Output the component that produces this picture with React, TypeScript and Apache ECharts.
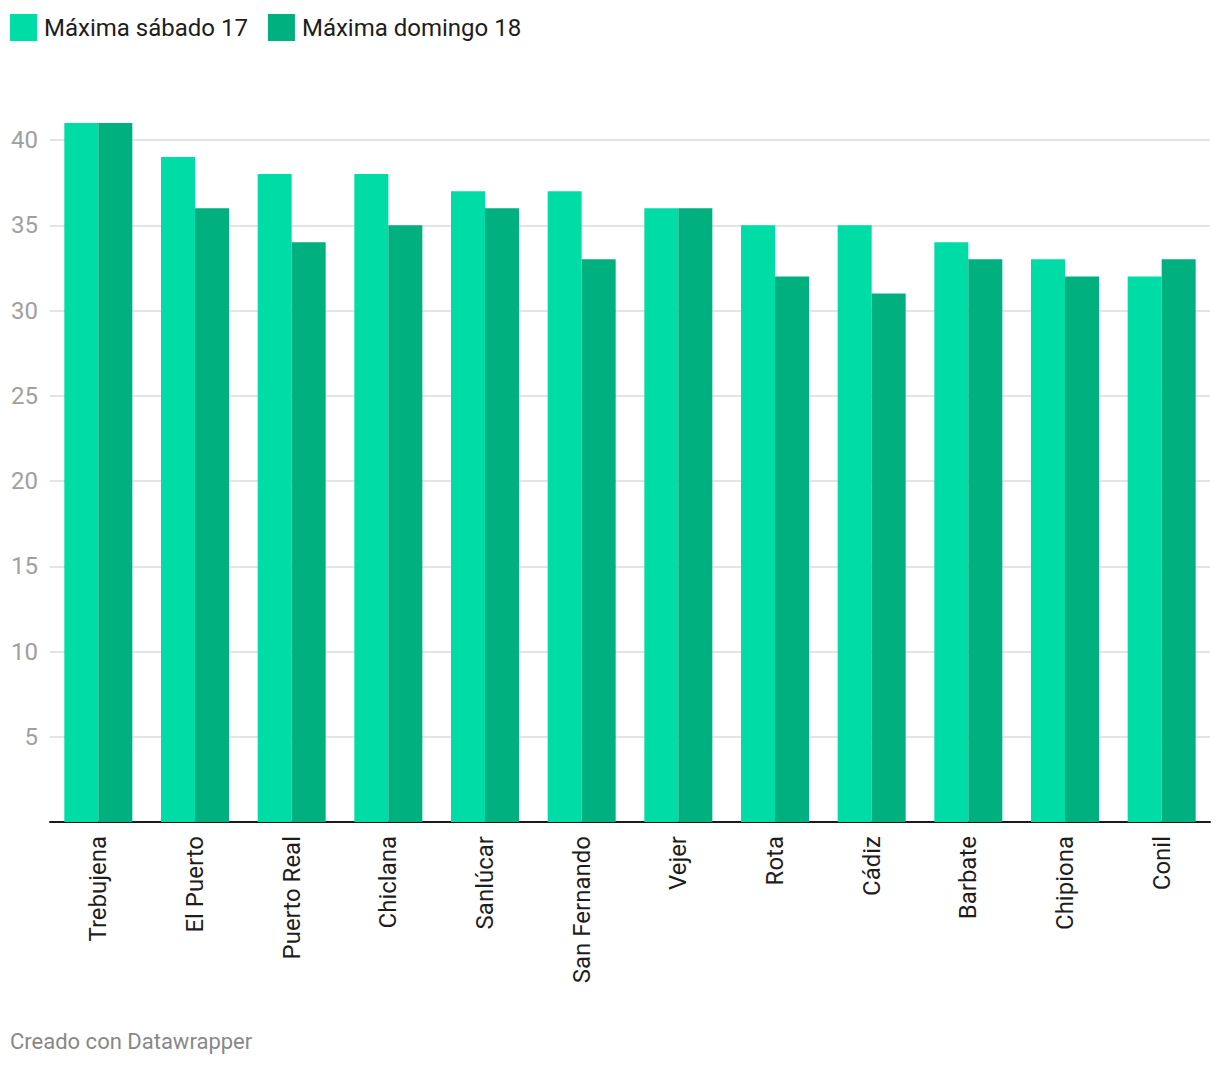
import React, { useEffect, useRef } from "react";
import * as echarts from "echarts";

const categories = ["Trebujena", "El Puerto", "Puerto Real", "Chiclana", "Sanlúcar", "San Fernando", "Vejer", "Rota", "Cádiz", "Barbate", "Chipiona", "Conil"];
const sabado = [41, 39, 38, 38, 37, 37, 36, 35, 35, 34, 33, 32];
const domingo = [41, 36, 34, 35, 36, 33, 36, 32, 31, 33, 32, 33];
const seriesNames = ["Máxima sábado 17", "Máxima domingo 18"];
const colors = ["#00dca5", "#00b07e"];
const footer = "Creado con Datawrapper";

export default function App() {
  const ref = useRef<HTMLDivElement>(null);
  useEffect(() => {
    if (!ref.current) return;
    const chart = echarts.init(ref.current, null, { renderer: "svg" });
    const font = "Roboto, 'Noto Sans', sans-serif";
    chart.setOption({
      animation: false,
      backgroundColor: "#ffffff",
      textStyle: { fontFamily: font },
      color: colors,
      legend: {
        left: 10,
        top: 14,
        padding: 0,
        itemWidth: 27,
        itemHeight: 27,
        itemGap: 20,
        icon: "rect",
        textStyle: { fontSize: 24, color: "#1d1d1d", fontFamily: font, padding: [0, 0, 0, 2] },
        data: seriesNames,
      },
      grid: { left: 50, right: 10, top: 140, bottom: 244, containLabel: false },
      xAxis: {
        type: "category",
        data: categories,
        axisLine: { show: true, lineStyle: { color: "#1a1a1a", width: 2 } },
        axisTick: { show: false },
        axisLabel: {
          rotate: 90,
          margin: 14,
          fontSize: 24,
          color: "#1d1d1d",
          fontFamily: font,
          interval: 0,
        },
      },
      yAxis: {
        type: "value",
        min: 0,
        max: 40,
        interval: 5,
        axisLine: { show: false },
        axisTick: { show: false },
        axisLabel: {
          margin: 12,
          fontSize: 24,
          color: "#a0a0a0",
          fontFamily: font,
          formatter: (v: number) => (v === 0 ? "" : String(v)),
        },
        splitLine: { show: true, lineStyle: { color: "#e4e4e4", width: 2 } },
      },
      series: [
        {
          name: seriesNames[0],
          type: "bar",
          data: sabado,
          barWidth: 34,
          barGap: "0%",
          clip: false,
          itemStyle: { color: colors[0] },
        },
        {
          name: seriesNames[1],
          type: "bar",
          data: domingo,
          barWidth: 34,
          barGap: "0%",
          clip: false,
          itemStyle: { color: colors[1] },
        },
      ],
      graphic: [
        {
          type: "text",
          left: 10,
          top: 1030,
          style: { text: footer, fontSize: 22, fill: "#888888", fontFamily: font },
        },
      ],
    });
    return () => chart.dispose();
  }, []);
  return (
    <div
      ref={ref}
      style={{ position: "fixed", left: 0, top: 0, width: 1220, height: 1066 }}
    />
  );
}
